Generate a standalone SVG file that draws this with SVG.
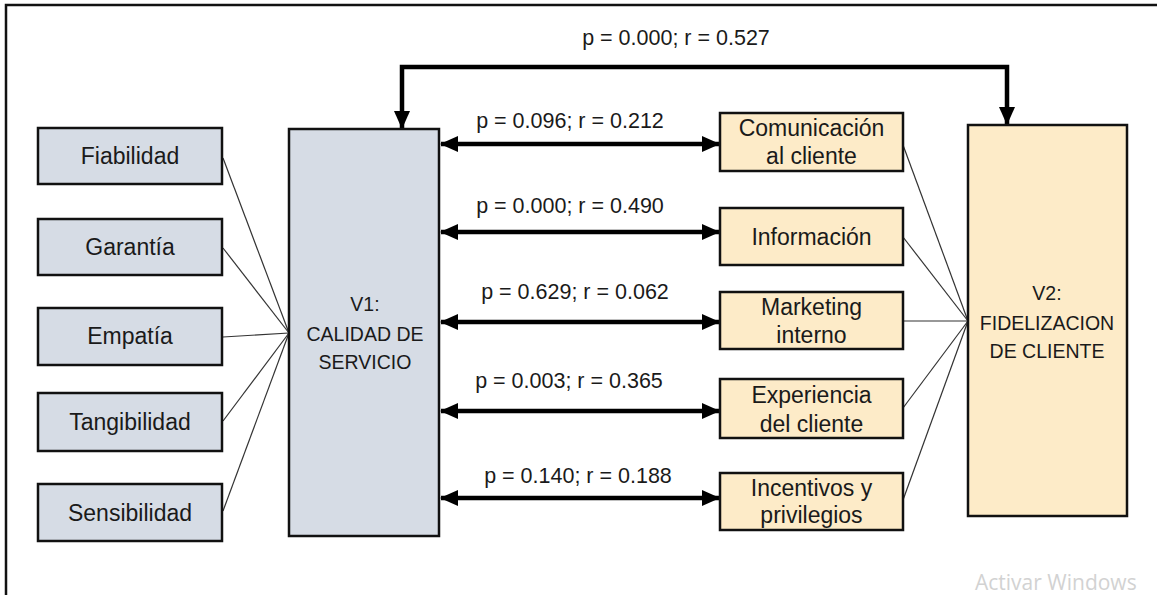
<svg xmlns="http://www.w3.org/2000/svg" width="1157" height="595" viewBox="0 0 1157 595">
<style>
.bg{fill:#ffffff}
.frame{stroke:#111;stroke-width:2.5;fill:none}
.dim{fill:#d6dce5;stroke:#111;stroke-width:2.5}
.var{fill:#d6dce5;stroke:#111;stroke-width:2.5}
.sub{fill:#fdebc8;stroke:#111;stroke-width:2.5}
.t{font-family:"Liberation Sans",Arial,sans-serif;font-size:23px;fill:#1a1a1a;text-anchor:middle}
.c{font-family:"Liberation Sans",Arial,sans-serif;font-size:19.5px;fill:#1a1a1a;text-anchor:middle}
.lab{font-family:"Liberation Sans",Arial,sans-serif;font-size:21.5px;fill:#1a1a1a;text-anchor:middle}
.thin{stroke:#333;stroke-width:1.2;fill:none}
.thick{stroke:#000;stroke-width:4.5;fill:none}
.wm{font-family:"Open Sans","Liberation Sans",sans-serif;font-size:21px;fill:#d2d2d2}
</style>
<defs>
<marker id="ah" markerUnits="userSpaceOnUse" markerWidth="18" markerHeight="18" viewBox="0 0 18 18" refX="17" refY="9" orient="auto-start-reverse">
<path d="M0,1 L18,9 L0,17 Z" fill="#000"/>
</marker>
</defs>
<rect class="bg" x="0" y="0" width="1157" height="595"/>
<g id="frame">
<path class="frame" d="M6,595 L6,5 L1157,5"/>
</g>
<g id="connectors">
<line class="thin" x1="223" y1="158" x2="289" y2="333"/>
<line class="thin" x1="223" y1="248" x2="289" y2="333"/>
<line class="thin" x1="223" y1="337" x2="289" y2="333"/>
<line class="thin" x1="223" y1="421" x2="289" y2="333"/>
<line class="thin" x1="223" y1="511" x2="289" y2="333"/>
<line class="thin" x1="903" y1="145" x2="968" y2="321"/>
<line class="thin" x1="903" y1="237" x2="968" y2="321"/>
<line class="thin" x1="903" y1="321" x2="968" y2="321"/>
<line class="thin" x1="903" y1="408" x2="968" y2="321"/>
<line class="thin" x1="903" y1="500" x2="968" y2="321"/>
<path class="thick" d="M402,128 L402,67 L1007,67 L1007,124" marker-start="url(#ah)" marker-end="url(#ah)"/>
<line class="thick" x1="441" y1="144" x2="719" y2="144" marker-start="url(#ah)" marker-end="url(#ah)"/>
<line class="thick" x1="441" y1="232" x2="719" y2="232" marker-start="url(#ah)" marker-end="url(#ah)"/>
<line class="thick" x1="441" y1="322" x2="719" y2="322" marker-start="url(#ah)" marker-end="url(#ah)"/>
<line class="thick" x1="441" y1="411" x2="719" y2="411" marker-start="url(#ah)" marker-end="url(#ah)"/>
<line class="thick" x1="441" y1="498" x2="719" y2="498" marker-start="url(#ah)" marker-end="url(#ah)"/>
<text class="lab" x="676" y="45">p = 0.000; r = 0.527</text>
<text class="lab" x="570" y="128">p = 0.096; r = 0.212</text>
<text class="lab" x="570" y="213">p = 0.000; r = 0.490</text>
<text class="lab" x="575" y="299">p = 0.629; r = 0.062</text>
<text class="lab" x="569" y="388">p = 0.003; r = 0.365</text>
<text class="lab" x="578" y="483">p = 0.140; r = 0.188</text>
</g>
<g id="fiabilidad"><rect class="dim" x="38" y="128" width="184" height="56"/><text class="t" x="130" y="164">Fiabilidad</text></g>
<g id="garantia"><rect class="dim" x="38" y="219" width="184" height="56"/><text class="t" x="130" y="255">Garantía</text></g>
<g id="empatia"><rect class="dim" x="38" y="308" width="184" height="57"/><text class="t" x="130" y="344">Empatía</text></g>
<g id="tangibilidad"><rect class="dim" x="38" y="393" width="184" height="58"/><text class="t" x="130" y="430">Tangibilidad</text></g>
<g id="sensibilidad"><rect class="dim" x="38" y="484" width="184" height="57"/><text class="t" x="130" y="521">Sensibilidad</text></g>
<g id="v1"><rect class="var" x="289" y="129" width="150" height="407"/>
<text class="c" x="365" y="311">V1:</text><text class="c" x="365" y="341">CALIDAD DE</text><text class="c" x="365" y="369">SERVICIO</text></g>
<g id="comunicacion"><rect class="sub" x="720" y="113" width="183" height="58"/><text class="t" x="811.5" y="136">Comunicación</text><text class="t" x="811.5" y="164">al cliente</text></g>
<g id="informacion"><rect class="sub" x="720" y="208" width="183" height="57"/><text class="t" x="811.5" y="245">Información</text></g>
<g id="marketing"><rect class="sub" x="720" y="292" width="183" height="57"/><text class="t" x="811.5" y="315">Marketing</text><text class="t" x="811.5" y="343">interno</text></g>
<g id="experiencia"><rect class="sub" x="720" y="379" width="183" height="59"/><text class="t" x="811.5" y="403">Experiencia</text><text class="t" x="811.5" y="432">del cliente</text></g>
<g id="incentivos"><rect class="sub" x="720" y="473" width="183" height="57"/><text class="t" x="811.5" y="496">Incentivos y</text><text class="t" x="811.5" y="523">privilegios</text></g>
<g id="v2"><rect class="sub" x="968" y="125" width="159" height="391"/>
<text class="c" x="1047" y="300">V2:</text><text class="c" x="1047" y="330">FIDELIZACION</text><text class="c" x="1047" y="358">DE CLIENTE</text></g>
<text class="wm" x="975" y="590">Activar Windows</text>
</svg>
